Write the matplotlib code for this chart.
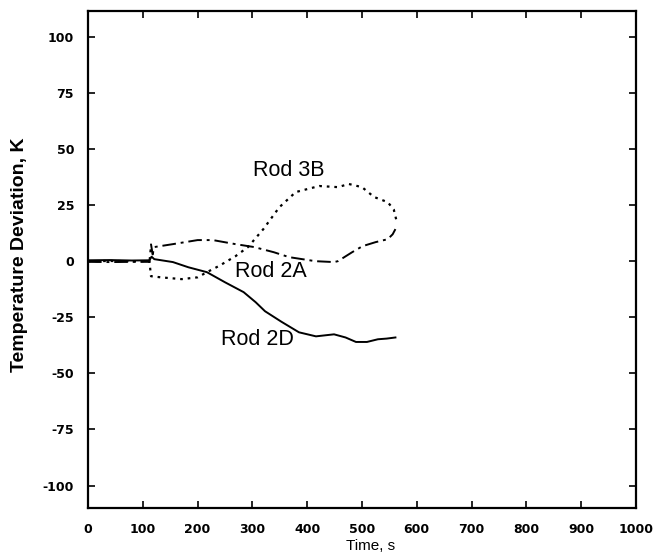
import matplotlib
matplotlib.use("Agg")
import matplotlib.pyplot as plt

# Rod 2D thermocouple: temperature deviation vs time
t_2d = [0, 40, 80, 112, 116, 121, 155, 183, 217, 250, 284, 306, 323, 353,
        385, 416, 449, 470, 489, 509, 529, 545, 561]
k_2d = [0.4, 0.5, 0.3, 0.4, 2.0, 0.9, -0.4, -2.7, -4.9, -9.4, -13.8, -18.3,
        -22.3, -27.0, -31.7, -33.5, -32.6, -34.0, -36.0, -36.0, -34.8, -34.5, -34.0]

# Rod 2A
t_2a = [0, 40, 80, 112, 115, 118, 121, 155, 200, 228, 269, 303, 339, 367,
        415, 449, 456, 482, 501, 525, 547, 556, 561]
k_2a = [-0.3, -0.4, -0.3, -0.3, 7.5, 3.0, 6.3, 7.6, 9.4, 9.4, 7.6, 6.3, 4.0,
        1.8, 0.0, -0.4, 0.0, 4.0, 6.7, 8.5, 9.8, 12.0, 14.3]

# Rod 3B
t_3b = [0, 40, 80, 112, 115, 133, 171, 200, 217, 240, 269, 292, 320, 349,
        379, 422, 456, 476, 500, 522, 547, 558, 563]
k_3b = [0.0, 0.1, 0.0, 0.0, -6.7, -7.2, -8.0, -7.2, -4.9, -2.0, 2.2, 6.3,
        14.3, 24.0, 30.8, 33.5, 33.0, 34.4, 33.0, 28.6, 26.3, 23.0, 18.0]

x_ticks = [0, 100, 200, 300, 400, 500, 600, 700, 800, 900, 1000]
y_ticks = [-100, -75, -50, -25, 0, 25, 50, 75, 100]

plt.rcParams['font.family'] = ['Liberation Sans', 'DejaVu Sans']

fig = plt.figure(figsize=(6.69, 5.55), dpi=100)
ax = fig.add_axes([88 / 669, 1 - 508 / 555, (636 - 88) / 669, (508 - 11) / 555])

ax.plot(t_2d, k_2d, color='black', lw=1.4, ls='-')
ax.plot(t_2a, k_2a, color='black', lw=1.4, ls=(0, (7, 2.5, 1.5, 2.5)))
ax.plot(t_3b, k_3b, color='black', lw=1.6, ls=(0, (1.2, 2.2)))

ax.text(367, 40.5, 'Rod 3B', fontsize=15.5, ha='center', va='center')
ax.text(334, -4.5, 'Rod 2A', fontsize=15.5, ha='center', va='center')
ax.text(309, -35, 'Rod 2D', fontsize=15.5, ha='center', va='center')

ax.set_xlim(0, 1000)
ax.set_ylim(-110, 111.5)
ax.set_xticks(x_ticks)
ax.set_yticks(y_ticks)
tick_font = dict(family=['DejaVu Sans'], fontsize=9, fontweight='bold')
ax.set_xticklabels([str(v) for v in x_ticks], **tick_font)
ax.set_yticklabels([str(v) for v in y_ticks], **tick_font)
ax.tick_params(direction='in', length=5, width=1.2, top=True, right=True)
ax.tick_params(axis='x', pad=11)
ax.tick_params(axis='y', pad=10)
for s in ax.spines.values():
    s.set_linewidth(1.6)

ax.set_xlabel('Time, s', fontsize=11)
ax.xaxis.set_label_coords(0.515, -0.062)
ax.set_ylabel('Temperature Deviation, K', fontsize=14, fontweight='bold')
ax.yaxis.set_label_coords(-0.11, 0.51)

fig.savefig('out.png', dpi=100)
